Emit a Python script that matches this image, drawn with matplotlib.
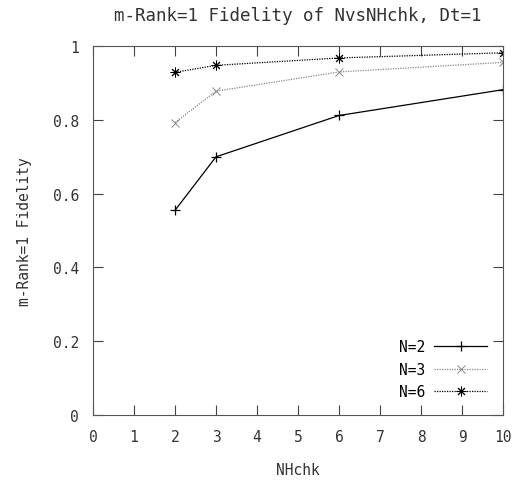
import matplotlib
matplotlib.use("Agg")
import matplotlib.pyplot as plt

nhchk = [2, 3, 6, 10]
fid_n2 = [0.555, 0.700, 0.812, 0.882]
fid_n3 = [0.793, 0.878, 0.930, 0.956]
fid_n6 = [0.929, 0.948, 0.968, 0.982]

plt.rcParams['font.family'] = 'DejaVu Sans Mono'
plt.rcParams['font.size'] = 10.5

fig = plt.figure(figsize=(5.24, 4.81), dpi=100)
ax = fig.add_axes([0.1775, 0.135, 0.7825, 0.767])

ax.plot(nhchk, fid_n2, color='black', lw=0.9, marker='+', ms=7, mew=0.9, label='N=2')
ax.plot(nhchk, fid_n3, color='#888888', lw=0.9, ls=(0, (1, 1)), marker='x', ms=6,
        mew=0.7, label='N=3')
ax.plot(nhchk, fid_n6, color='black', lw=0.9, ls=(0, (1, 1)), marker=(8, 2, 0), ms=7,
        mew=0.7, label='N=6')

ax.set_xlim(0, 10)
ax.set_ylim(0, 1)
ax.set_xticks(range(11))
ax.set_yticks([0, 0.2, 0.4, 0.6, 0.8, 1])
ax.set_yticklabels(['0', '0.2', '0.4', '0.6', '0.8', '1'])
ax.tick_params(direction='in', length=7, width=0.8, top=True, right=True, pad=10,
               colors='#444444', labelcolor='#333333')
for s in ax.spines.values():
    s.set_linewidth(0.8)
    s.set_color('#555555')

ax.set_title('m-Rank=1 Fidelity of NvsNHchk, Dt=1', pad=19, color='#333333')
ax.set_xlabel('NHchk', labelpad=13, color='#333333')
ax.set_ylabel('m-Rank=1 Fidelity', labelpad=15, color='#333333')

ax.legend(loc='lower right', markerfirst=False, frameon=False, handlelength=3.6,
          labelspacing=0.5, borderaxespad=0.7, handletextpad=0.6)

fig.savefig('out.png', dpi=100)
